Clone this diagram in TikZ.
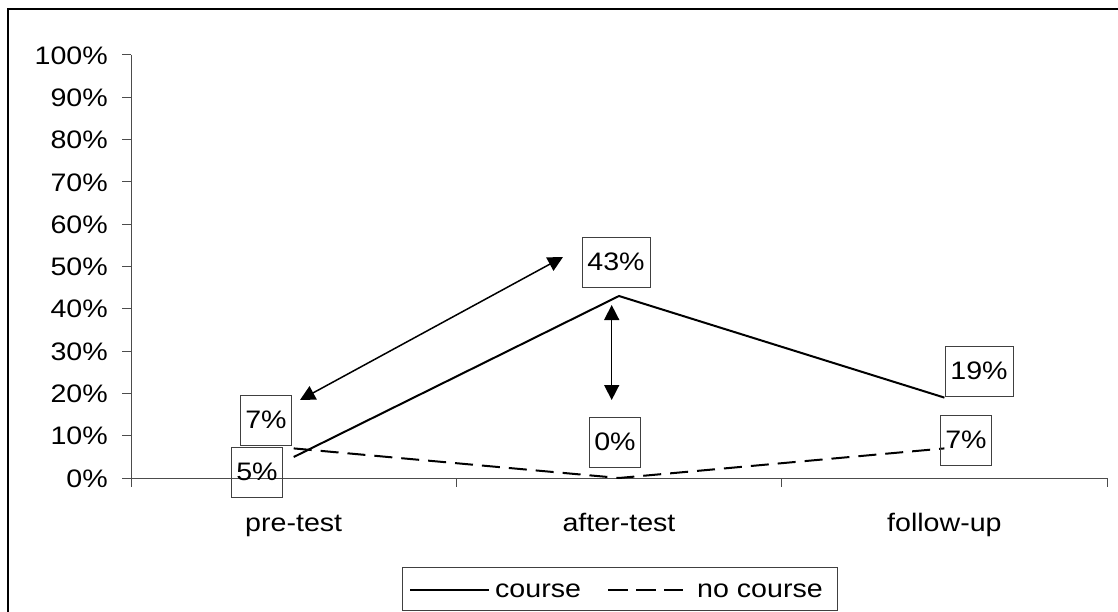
\documentclass[tikz,border=0pt]{standalone}
\usepackage{fontspec}
\setmainfont{Liberation Sans}[FakeStretch=1.13]
\usetikzlibrary{arrows.meta}
\begin{document}
\begin{tikzpicture}[x=1bp,y=-1bp,
  lbl/.style={font=\fontsize{25.3bp}{30bp}\selectfont, inner sep=0pt},
  valbox/.style={draw=black!75, line width=0.9bp, font=\fontsize{25.3bp}{30bp}\selectfont, inner xsep=4.3bp, inner ysep=0pt, minimum height=50bp},
  axisline/.style={draw=black!70, line width=1bp},
  courseline/.style={line width=2bp, black},
  nocourseline/.style={line width=2bp, black, dash pattern=on 18bp off 9bp},
  dblarrow/.style={line width=1.5bp, {Triangle[length=15bp,width=15bp]}-{Triangle[length=15bp,width=15bp]}}
]
\useasboundingbox (0,0) rectangle (1118,612);
\fill[white] (0,0) rectangle (1118,612);
% outer frame
\draw[line width=1.3bp] (8,612) -- (8,9) -- (1118,9);
% axes
\coordinate (ytop) at (131,55);
\coordinate (ybot) at (131,487);
\draw[axisline] (ytop) -- (ybot);
\coordinate (xl) at (122,478);
\coordinate (xr) at (1107,478);
\draw[axisline] (xl) -- (xr);
\foreach \k in {0,...,10}{
  \pgfmathtruncatemacro\pct{10*\k}
  \coordinate (t\k a) at (122,{478-42.3*\k});
  \coordinate (t\k b) at (131,{478-42.3*\k});
  \draw[axisline] (t\k a) -- (t\k b);
  \node[lbl, anchor=base east] (yl\k) at (108,{487.2-42.3*\k}) {\pct\%};
}
\foreach \x [count=\i] in {456.3,781.7,1107}{
  \coordinate (ct\i a) at (\x,478);
  \coordinate (ct\i b) at (\x,487);
  \draw[axisline] (ct\i a) -- (ct\i b);
}
% category labels
\node[lbl, anchor=base] (cat1) at (293.7,531) {pre-test};
\node[lbl, anchor=base] (cat2) at (619,531) {after-test};
\node[lbl, anchor=base] (cat3) at (944.4,531) {follow-up};
% data
\coordinate (c1) at (293.7,457);
\coordinate (c2) at (619,296);
\coordinate (c3) at (944.4,397.6);
\coordinate (n1) at (293.7,448.4);
\coordinate (n2) at (619,478);
\coordinate (n3) at (944.4,448.4);
\draw[nocourseline] (n1) -- (n2) -- (n3);
\draw[courseline] (c1) -- (c2) -- (c3);
% value boxes
\node[valbox, minimum width=51bp] (l5) at (257,472) {5\%};
\node[valbox, minimum width=51bp] (l7a) at (266,420) {7\%};
\node[valbox, minimum width=68bp] (l43) at (616,262) {43\%};
\node[valbox, minimum width=51bp] (l0) at (615,442) {0\%};
\node[valbox, minimum width=68bp] (l19) at (979,371) {19\%};
\node[valbox, minimum width=51bp] (l7b) at (966,440) {7\%};
% arrows
\coordinate (a1) at (300,400);
\coordinate (a2) at (563,257);
\draw[dblarrow] (a1) -- (a2);
\coordinate (v1) at (611.7,305);
\coordinate (v2) at (611.7,400);
\draw[dblarrow] (v1) -- (v2);
% legend
\node[draw=black!75, line width=0.9bp, minimum width=435bp, minimum height=43bp, inner sep=0pt] (legend) at (619.5,589) {};
\coordinate (lg1) at (410,589.5);
\coordinate (lg2) at (489,589.5);
\draw[courseline] (lg1) -- (lg2);
\node[lbl, anchor=base west] (lgt1) at (495,597) {course};
\coordinate (lg3) at (608,589.5);
\coordinate (lg4) at (683,589.5);
\draw[line width=2bp, dash pattern=on 20bp off 8bp] (lg3) -- (lg4);
\node[lbl, anchor=base west] (lgt2) at (697,597) {no course};
\end{tikzpicture}
\end{document}
